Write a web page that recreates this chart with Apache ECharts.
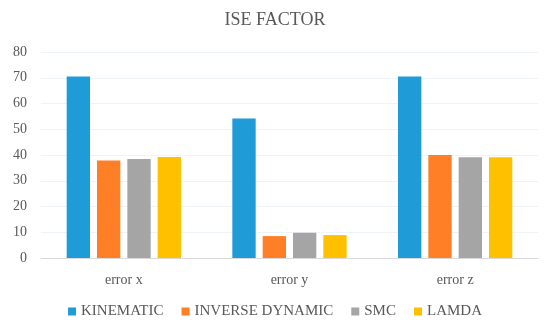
<!DOCTYPE html>
<html>
<head>
<meta charset="utf-8">
<script src="https://cdn.jsdelivr.net/npm/echarts@6/dist/echarts.min.js"></script>
<style>html,body{margin:0;padding:0;background:#fff}#c{width:550px;height:325px}</style>
</head>
<body>
<div id="c"></div>
<script>
var categories = ['error x', 'error y', 'error z'];
var kinematic = [70.5, 54.2, 70.5];
var inverseDynamic = [37.9, 8.5, 40.0];
var smc = [38.4, 9.8, 39.1];
var lamda = [39.2, 8.9, 39.1];
var seriesNames = ['KINEMATIC', 'INVERSE DYNAMIC', 'SMC', 'LAMDA'];
var colors = ['#1f9bd7', '#ff7f27', '#a5a5a5', '#ffc000'];

var fontFam = 'Liberation Serif';
var chart = echarts.init(document.getElementById('c'));
var data = [kinematic, inverseDynamic, smc, lamda];
chart.setOption({
  animation: false,
  color: colors,
  textStyle: { fontFamily: fontFam },
  title: {
    text: 'ISE FACTOR',
    left: 'center',
    top: 6,
    textStyle: { fontFamily: fontFam, fontSize: 18, fontWeight: 'normal', color: '#595959' }
  },
  legend: {
    bottom: 1,
    left: 'center',
    itemWidth: 8,
    itemHeight: 8,
    itemGap: 18,
    icon: 'rect',
    textStyle: { fontFamily: fontFam, fontSize: 15, color: '#595959' },
    data: seriesNames
  },
  grid: { left: 41, right: 12, top: 52, bottom: 67 },
  xAxis: {
    type: 'category',
    data: categories,
    axisLine: { lineStyle: { color: '#d9d9d9', width: 1 } },
    axisTick: { show: false },
    axisLabel: { fontFamily: fontFam, fontSize: 14, color: '#595959', margin: 15 }
  },
  yAxis: {
    type: 'value',
    min: 0,
    max: 80,
    interval: 10,
    axisLine: { show: false },
    axisTick: { show: false },
    splitLine: { lineStyle: { color: '#eef3f8', width: 1 } },
    axisLabel: { fontFamily: fontFam, fontSize: 14, color: '#595959', margin: 14 }
  },
  series: seriesNames.map(function (n, i) {
    return {
      name: n,
      type: 'bar',
      data: data[i],
      barGap: '30%',
      barCategoryGap: '31%'
    };
  })
});
</script>
</body>
</html>
